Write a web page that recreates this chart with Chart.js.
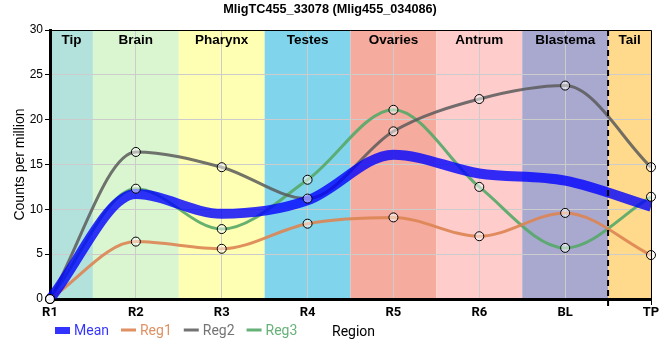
<!DOCTYPE html>
<html>
<head>
<meta charset="utf-8">
<script src="https://cdn.jsdelivr.net/npm/chart.js@4.4.0/dist/chart.umd.min.js"></script>
<style>
  html, body { margin: 0; padding: 0; background: #fff; }
  #wrap { width: 660px; height: 360px; }
</style>
</head>
<body>
<div id="wrap"><canvas id="chart" width="660" height="360"></canvas></div>
<script>
// data
const chartTitle = 'MligTC455_33078 (Mlig455_034086)';
const categories = ['R1', 'R2', 'R3', 'R4', 'R5', 'R6', 'BL', 'TP'];
const regionNames = ['Tip', 'Brain', 'Pharynx', 'Testes', 'Ovaries', 'Antrum', 'Blastema', 'Tail'];
const meanValues = [0, 11.7, 9.5, 11.0, 16.1, 14.0, 13.2, 10.3];
const reg1Values = [0, 6.4, 5.6, 8.4, 9.1, 7.0, 9.6, 4.9];
const reg2Values = [0, 16.4, 14.7, 11.2, 18.7, 22.3, 23.8, 14.7];
const reg3Values = [0, 12.3, 7.8, 13.3, 21.1, 12.5, 5.7, 11.4];
const yTicks = [0, 5, 10, 15, 20, 25, 30];

const regionColors = ['#b3e2dc', '#d9f6d0', '#ffffb3', '#80d4ec', '#f5ab9e', '#ffcccc', '#a9a9d0', '#ffd98c'];
const meanColor = 'rgba(0, 0, 255, 0.8)';
const reg1Color = 'rgba(221, 132, 82, 0.9)';
const reg2Color = 'rgba(90, 90, 90, 0.85)';
const reg3Color = 'rgba(85, 168, 104, 0.9)';

function pointSet(values) {
    return {
        data: values,
        showLine: false,
        pointRadius: 4.5,
        pointBackgroundColor: 'rgba(255, 255, 255, 0.5)',
        pointBorderColor: '#000',
        pointBorderWidth: 1,
        order: 0,
        clip: false,
        isMarker: true
    };
}

function lineSet(label, values, color, width, order) {
    return {
        label: label,
        data: values,
        borderColor: color,
        backgroundColor: color,
        borderWidth: width,
        pointRadius: 0,
        cubicInterpolationMode: 'monotone',
        fill: false,
        order: order
    };
}

const regionPlugin = {
    id: 'regions',
    beforeDraw(chart) {
        let ctx = chart.ctx;
        let area = chart.chartArea;
        let x = chart.scales.x;
        ctx.save();
        for (let i = 0; i < regionNames.length; i++) {
            let x0 = Math.max(area.left, x.getPixelForValue(i - 0.5));
            let x1 = Math.min(area.right, x.getPixelForValue(i + 0.5));
            ctx.fillStyle = regionColors[i];
            ctx.fillRect(x0, area.top, x1 - x0, area.bottom - area.top);
        }
        ctx.restore();
    },
    afterDatasetsDraw(chart) {
        let ctx = chart.ctx;
        let area = chart.chartArea;
        let x = chart.scales.x;
        ctx.save();
        ctx.fillStyle = '#000';
        ctx.font = 'bold 13.5px "Liberation Sans", Arial, sans-serif';
        ctx.textAlign = 'center';
        ctx.textBaseline = 'middle';
        for (let i = 0; i < regionNames.length; i++) {
            let x0 = Math.max(area.left, x.getPixelForValue(i - 0.5));
            let x1 = Math.min(area.right, x.getPixelForValue(i + 0.5));
            ctx.fillText(regionNames[i], (x0 + x1) / 2, area.top + 10);
        }
        // dashed boundary between blastema and tail
        let xd = x.getPixelForValue(6.5);
        ctx.strokeStyle = '#000';
        ctx.lineWidth = 2;
        ctx.setLineDash([6, 4]);
        ctx.beginPath();
        ctx.moveTo(xd, area.top);
        ctx.lineTo(xd, area.bottom + 7);
        ctx.stroke();
        ctx.setLineDash([]);
        // thin frame on top and right
        ctx.lineWidth = 1;
        ctx.beginPath();
        ctx.moveTo(area.left, area.top + 0.5);
        ctx.lineTo(area.right + 0.5, area.top + 0.5);
        ctx.lineTo(area.right + 0.5, area.bottom + 6);
        ctx.stroke();
        ctx.restore();
    },
    afterDraw(chart) {
        let ctx = chart.ctx;
        ctx.save();
        // title
        ctx.fillStyle = '#000';
        ctx.font = 'bold 12.7px "Liberation Sans", Arial, sans-serif';
        ctx.textAlign = 'center';
        ctx.textBaseline = 'middle';
        ctx.fillText(chartTitle, chart.width / 2, 9);
        // legend
        ctx.font = '14px Roboto, sans-serif';
        ctx.textAlign = 'left';
        let lx = 55;
        let ly = 330;
        let items = chart.data.datasets.filter(d => !d.isMarker);
        for (let d of items) {
            if (d.borderWidth > 5) {
                ctx.fillStyle = d.borderColor;
                ctx.fillRect(lx, ly - 3, 15, 7);
            } else {
                ctx.strokeStyle = d.borderColor;
                ctx.lineWidth = 3;
                ctx.beginPath();
                ctx.moveTo(lx, ly);
                ctx.lineTo(lx + 15, ly);
                ctx.stroke();
            }
            ctx.fillStyle = d.borderColor;
            ctx.fillText(d.label, lx + 19, ly + 1);
            lx += 19 + ctx.measureText(d.label).width + 12;
        }
        ctx.fillStyle = '#000';
        ctx.fillText('Region', 332, ly + 2);
        ctx.restore();
    }
};

let ctx = document.getElementById('chart').getContext('2d');
let chart = new Chart(ctx, {
    type: 'line',
    data: {
        labels: categories,
        datasets: [
            lineSet('Mean', meanValues, meanColor, 10, 1),
            lineSet('Reg1', reg1Values, reg1Color, 3, 2),
            lineSet('Reg2', reg2Values, reg2Color, 3, 2),
            lineSet('Reg3', reg3Values, reg3Color, 3, 2),
            pointSet(reg1Values),
            pointSet(reg2Values),
            pointSet(reg3Values),
            pointSet(meanValues.slice(0, 1))
        ]
    },
    options: {
        responsive: false,
        animation: false,
        layout: { padding: { left: 10, right: 9, top: 30, bottom: 39 } },
        plugins: {
            legend: { display: false },
            title: { display: false },
            tooltip: { enabled: false }
        },
        scales: {
            x: {
                offset: false,
                grid: { color: '#cccccc', tickLength: 0 },
                border: { color: '#000', width: 3 },
                ticks: {
                    color: '#000',
                    padding: 6,
                    font: { family: 'Roboto, sans-serif', size: 13, weight: 'bold' }
                },
                afterFit(scale) {
                    scale.height = 22;
                    scale.paddingLeft = 0;
                    scale.paddingRight = 0;
                }
            },
            y: {
                min: 0,
                max: 30,
                afterBuildTicks(scale) { scale.ticks = yTicks.map(v => ({ value: v })); },
                grid: { color: '#cccccc', tickColor: '#000', tickLength: 5 },
                border: { color: '#000', width: 3 },
                ticks: {
                    color: '#000',
                    padding: 2,
                    font: { family: '"Liberation Sans", Arial, sans-serif', size: 12 }
                },
                title: {
                    display: true,
                    text: 'Counts per million',
                    color: '#000',
                    padding: { top: 2, bottom: 0 },
                    font: { family: '"Liberation Sans", Arial, sans-serif', size: 14 }
                },
                afterFit(scale) { scale.width = 40; }
            }
        }
    },
    plugins: [regionPlugin]
});
</script>
</body>
</html>
